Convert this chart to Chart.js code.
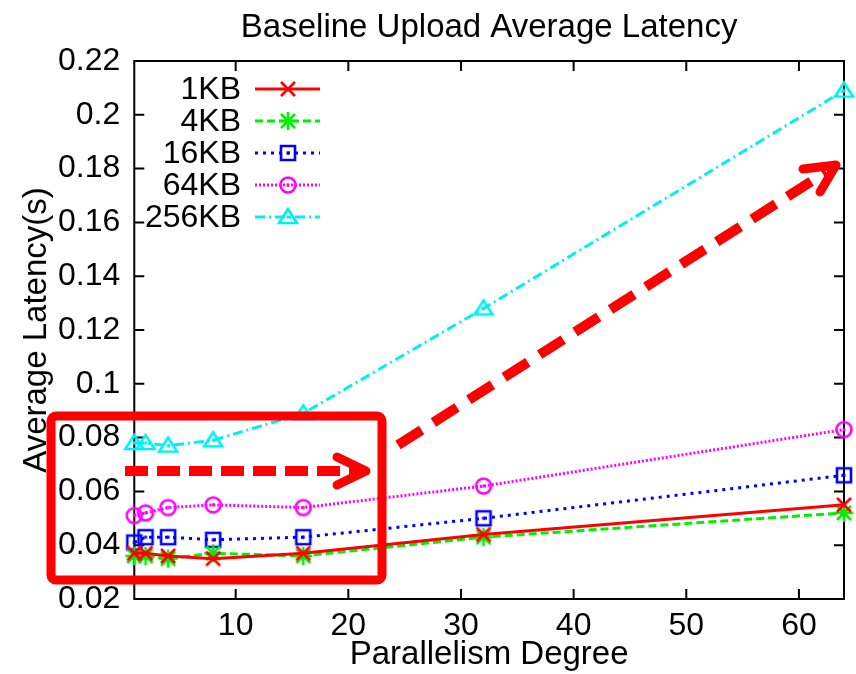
<!DOCTYPE html>
<html>
<head>
<meta charset="utf-8">
<script src="https://cdn.jsdelivr.net/npm/chart.js@4"></script>
<style>
  html, body { margin: 0; padding: 0; background: #fff; }
  #wrap { width: 856px; height: 674px; }
</style>
</head>
<body>
<div id="wrap"><canvas id="myChart" width="856" height="674"></canvas></div>
<script>
// parallelism degree (x) and average latency in seconds per object size
const degrees = [1, 2, 4, 8, 16, 32, 64];
const lat1KB   = [0.037, 0.037, 0.036, 0.035, 0.037, 0.044, 0.055];
const lat4KB   = [0.036, 0.036, 0.035, 0.037, 0.036, 0.043, 0.052];
const lat16KB  = [0.041, 0.043, 0.043, 0.042, 0.043, 0.050, 0.066];
const lat64KB  = [0.051, 0.052, 0.054, 0.055, 0.054, 0.062, 0.083];
const lat256KB = [0.078, 0.078, 0.077, 0.079, 0.089, 0.128, 0.209];
const seriesNames = ['1KB', '4KB', '16KB', '64KB', '256KB'];
const xTicks = [10, 20, 30, 40, 50, 60];
const yTicks = [0.02, 0.04, 0.06, 0.08, 0.1, 0.12, 0.14, 0.16, 0.18, 0.2, 0.22];

const FONT = "'Liberation Sans', Arial, Helvetica, sans-serif";

// gnuplot-like point symbols drawn on a small canvas
function marker(kind, color) {
  const s = 26, m = s / 2;
  const c = document.createElement('canvas');
  c.width = s; c.height = s;
  const g = c.getContext('2d');
  g.strokeStyle = color;
  g.fillStyle = color;
  g.lineWidth = 2.6;
  g.beginPath();
  if (kind === 'x' || kind === 'star') {
    g.moveTo(m - 7, m - 7); g.lineTo(m + 7, m + 7);
    g.moveTo(m + 7, m - 7); g.lineTo(m - 7, m + 7);
  }
  if (kind === 'star') {
    g.moveTo(m, m - 9); g.lineTo(m, m + 9);
    g.moveTo(m - 9, m); g.lineTo(m + 9, m);
  }
  if (kind === 'square') g.rect(m - 7, m - 7, 14, 14);
  if (kind === 'circle') g.arc(m, m, 7.5, 0, Math.PI * 2);
  if (kind === 'triangle') {
    g.moveTo(m, m - 8); g.lineTo(m + 9, m + 6); g.lineTo(m - 9, m + 6); g.closePath();
  }
  g.stroke();
  if (kind === 'square' || kind === 'circle' || kind === 'triangle') {
    g.fillRect(m - 1.5, m - 1.5, 3, 3);
  }
  return c;
}

function pts(values) {
  return degrees.map((d, i) => ({ x: d, y: values[i] }));
}

const datasets = [
  { label: seriesNames[0], data: pts(lat1KB), borderColor: '#ff0000', borderDash: [], pointStyle: marker('x', '#ff0000') },
  { label: seriesNames[1], data: pts(lat4KB), borderColor: '#00f000', borderDash: [8, 4], pointStyle: marker('star', '#00f000') },
  { label: seriesNames[2], data: pts(lat16KB), borderColor: '#0000ff', borderDash: [3, 5], pointStyle: marker('square', '#0000ff') },
  { label: seriesNames[3], data: pts(lat64KB), borderColor: '#ff00ff', borderDash: [2, 2], pointStyle: marker('circle', '#ff00ff') },
  { label: seriesNames[4], data: pts(lat256KB), borderColor: '#00f0f0', borderDash: [10, 4, 2, 4], pointStyle: marker('triangle', '#00f0f0') }
].map(ds => Object.assign(ds, {
  borderWidth: 3,
  tension: 0,
  fill: false,
  clip: false,
  pointRadius: 8,
  pointHoverRadius: 8
}));

// border box with inward ticks on all four sides
const framePlugin = {
  id: 'frame',
  beforeDatasetsDraw(chart) {
    const { ctx, chartArea: a, scales } = chart;
    ctx.save();
    ctx.strokeStyle = '#000';
    ctx.lineWidth = 2;
    ctx.strokeRect(a.left, a.top, a.right - a.left, a.bottom - a.top);
    ctx.beginPath();
    xTicks.forEach(v => {
      const px = scales.x.getPixelForValue(v);
      ctx.moveTo(px, a.bottom); ctx.lineTo(px, a.bottom - 10);
      ctx.moveTo(px, a.top); ctx.lineTo(px, a.top + 10);
    });
    yTicks.forEach(v => {
      const py = scales.y.getPixelForValue(v);
      ctx.moveTo(a.left, py); ctx.lineTo(a.left + 10, py);
      ctx.moveTo(a.right, py); ctx.lineTo(a.right - 10, py);
    });
    ctx.stroke();
    ctx.restore();
  }
};

// key in the upper left, text to the left of the sample line
const keyPlugin = {
  id: 'key',
  afterDatasetsDraw(chart) {
    const ctx = chart.ctx;
    ctx.save();
    ctx.font = '32px ' + FONT;
    ctx.textAlign = 'right';
    ctx.textBaseline = 'middle';
    chart.data.datasets.forEach((ds, i) => {
      const y = 89 + i * 32;
      ctx.fillStyle = '#000';
      ctx.fillText(ds.label, 241, y + 1);
      ctx.strokeStyle = ds.borderColor;
      ctx.lineWidth = ds.borderWidth;
      ctx.setLineDash(ds.borderDash);
      ctx.beginPath();
      ctx.moveTo(255, y); ctx.lineTo(320, y);
      ctx.stroke();
      ctx.setLineDash([]);
      Chart.helpers.drawPoint(ctx, { pointStyle: ds.pointStyle, radius: 8, rotation: 0, borderWidth: 0 }, 288, y);
    });
    ctx.restore();
  }
};

// red highlight box and dashed arrows
const notePlugin = {
  id: 'notes',
  afterDraw(chart) {
    const ctx = chart.ctx;
    ctx.save();
    ctx.strokeStyle = '#ff0000';
    ctx.lineWidth = 9;
    ctx.beginPath();
    ctx.roundRect(51, 416, 331, 164, 5);
    ctx.stroke();

    ctx.lineWidth = 10;
    ctx.setLineDash([23, 9]);
    ctx.beginPath();
    ctx.moveTo(125, 471); ctx.lineTo(358, 471);
    ctx.stroke();

    ctx.setLineDash([28, 14]);
    ctx.beginPath();
    ctx.moveTo(398, 445); ctx.lineTo(826, 172);
    ctx.stroke();

    ctx.setLineDash([]);
    ctx.lineWidth = 9;
    ctx.lineCap = 'round';
    ctx.lineJoin = 'round';
    ctx.beginPath();
    ctx.moveTo(337, 457); ctx.lineTo(366, 471); ctx.lineTo(337, 485);
    ctx.moveTo(803, 169); ctx.lineTo(836, 165); ctx.lineTo(820, 192);
    ctx.stroke();
    ctx.restore();
  }
};

const ctx = document.getElementById('myChart');

new Chart(ctx, {
  type: 'line',
  data: { datasets: datasets },
  options: {
    responsive: false,
    animation: false,
    events: [],
    layout: { padding: { left: 20, right: 12, top: 0, bottom: 3 } },
    plugins: {
      legend: { display: false },
      tooltip: { enabled: false },
      title: {
        display: true,
        fullSize: false,
        text: 'Baseline Upload Average Latency',
        color: '#000',
        font: { family: FONT, size: 33, weight: 'normal', lineHeight: 1.0 },
        padding: { top: 11, bottom: 17 }
      }
    },
    scales: {
      x: {
        type: 'linear',
        min: 1,
        max: 64,
        grid: { display: false, drawTicks: false },
        border: { display: false },
        afterBuildTicks: scale => { scale.ticks = xTicks.map(v => ({ value: v })); },
        ticks: {
          color: '#000',
          padding: 11,
          maxRotation: 0,
          font: { family: FONT, size: 32, lineHeight: 1.0 }
        },
        title: {
          display: true,
          text: 'Parallelism Degree',
          color: '#000',
          padding: { top: -15, bottom: 0 },
          font: { family: FONT, size: 33, lineHeight: 1.0 }
        }
      },
      y: {
        type: 'linear',
        min: 0.02,
        max: 0.22,
        grid: { display: false, drawTicks: false },
        border: { display: false },
        afterBuildTicks: scale => { scale.ticks = yTicks.map(v => ({ value: v })); },
        ticks: {
          color: '#000',
          padding: 14,
          font: { family: FONT, size: 32, lineHeight: 1.0 },
          callback: v => String(Number(v.toFixed(2)))
        },
        title: {
          display: true,
          text: 'Average Latency(s)',
          color: '#000',
          padding: { top: 0, bottom: -9 },
          font: { family: FONT, size: 33, lineHeight: 1.0 }
        }
      }
    }
  },
  plugins: [framePlugin, keyPlugin, notePlugin]
});
</script>
</body>
</html>
